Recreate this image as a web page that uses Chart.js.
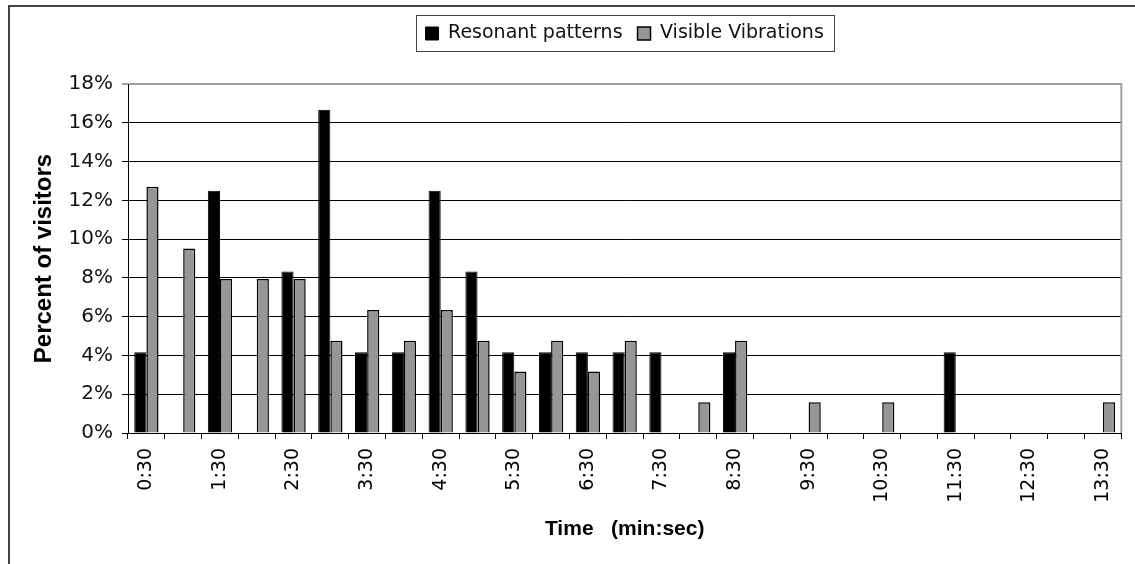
<!DOCTYPE html>
<html>
<head>
<meta charset="utf-8">
<script src="https://cdn.jsdelivr.net/npm/chart.js@4.4.0/dist/chart.umd.min.js"></script>
<style>
  html, body { margin: 0; padding: 0; background: #fff; overflow: hidden; }
  #frame { position: absolute; left: 8px; top: 5px; width: 1200px; height: 620px;
           border-left: 2px solid #444; border-top: 2px solid #444; }
  #wrap { position: absolute; left: 0; top: 0; width: 1135px; height: 564px; }
</style>
</head>
<body>
<div id="frame"></div>
<div id="wrap"><canvas id="barChart" width="1135" height="564"></canvas></div>
<script>
// time buckets, every 30 seconds
var times = ["0:30", "1:00", "1:30", "2:00", "2:30", "3:00", "3:30", "4:00", "4:30",
             "5:00", "5:30", "6:00", "6:30", "7:00", "7:30", "8:00", "8:30", "9:00",
             "9:30", "10:00", "10:30", "11:00", "11:30", "12:00", "12:30", "13:00", "13:30"];

// percent of visitors
var resonant = [4.17, 0, 12.5, 0, 8.33, 16.67, 4.17, 4.17, 12.5, 8.33, 4.17, 4.17, 4.17, 4.17,
                4.17, 0, 4.17, 0, 0, 0, 0, 0, 4.17, 0, 0, 0, 0];
var visible = [12.7, 9.52, 7.94, 7.94, 7.94, 4.76, 6.35, 4.76, 6.35, 4.76, 3.17, 4.76, 3.17, 4.76,
               0, 1.59, 4.76, 0, 1.59, 0, 1.59, 0, 0, 0, 0, 0, 1.59];

var seriesNames = ["Resonant patterns", "Visible Vibrations"];
var yTicks = [0, 2, 4, 6, 8, 10, 12, 14, 16, 18];

// push the plot down below the legend and box the legend like Excel does
var legendBox = {
    id: "legendBox",
    beforeInit: function (chart) {
        var fit = chart.legend.fit;
        chart.legend.fit = function () {
            fit.bind(chart.legend)();
            this.height += 31;
        };
    },
    afterDraw: function (chart) {
        var hb = chart.legend.legendHitBoxes;
        if (!hb || !hb.length) return;
        var c = chart.ctx;
        var last = hb[hb.length - 1];
        var x1 = hb[0].left - 10, x2 = last.left + last.width + 10;
        var y1 = hb[0].top - 9, y2 = hb[0].top + hb[0].height + 8;
        c.save();
        c.strokeStyle = "#444";
        c.lineWidth = 1;
        c.strokeRect(Math.round(x1) + 0.5, Math.round(y1) + 0.5, Math.round(x2 - x1), Math.round(y2 - y1));
        // grey right edge of the plot area
        var a = chart.chartArea;
        c.strokeStyle = "#a0a0a0";
        c.lineWidth = 2;
        c.beginPath();
        c.moveTo(a.right, a.top - 1);
        c.lineTo(a.right, a.bottom);
        c.stroke();
        c.restore();
    }
};

var ctx = document.getElementById("barChart").getContext("2d");
new Chart(ctx, {
    type: "bar",
    data: {
        labels: times,
        datasets: [{
            label: seriesNames[0],
            data: resonant,
            backgroundColor: "#000000",
            borderColor: "#000000",
            borderWidth: 1
        }, {
            label: seriesNames[1],
            data: visible,
            backgroundColor: "#969696",
            borderColor: "#000000",
            borderWidth: 1.5
        }]
    },
    options: {
        responsive: false,
        animation: false,
        devicePixelRatio: 1,
        categoryPercentage: 0.66,
        barPercentage: 1.0,
        layout: { padding: { left: 26, right: 7, top: 9, bottom: 16 } },
        plugins: {
            tooltip: { enabled: false },
            legend: {
                position: "top",
                fullSize: false,
                labels: {
                    color: "#111",
                    boxWidth: 13,
                    boxHeight: 13,
                    padding: 15,
                    font: { family: "DejaVu Sans", size: 19 }
                }
            }
        },
        scales: {
            x: {
                offset: true,
                afterFit: function (s) { s.height = 115; },
                grid: { display: true, drawOnChartArea: false, drawTicks: true, tickLength: 6, color: "#000" },
                border: { color: "#000", width: 1 },
                ticks: {
                    autoSkip: false,
                    maxRotation: 90,
                    minRotation: 90,
                    padding: 9,
                    color: "#000",
                    font: { family: "DejaVu Sans", size: 19 },
                    callback: function (v, i) { return i % 2 === 0 ? times[i] : ""; }
                },
                title: {
                    display: true,
                    text: "Time   (min:sec)",
                    color: "#000",
                    font: { family: "Liberation Sans", size: 21, weight: "bold" },
                    padding: { top: 4, bottom: 6 }
                }
            },
            y: {
                min: yTicks[0],
                max: yTicks[yTicks.length - 1],
                afterFit: function (s) { s.width = 102; },
                afterBuildTicks: function (s) { s.ticks = yTicks.map(function (v) { return { value: v }; }); },
                grid: {
                    drawTicks: true,
                    tickLength: 6,
                    color: function (c) { return c.tick && c.tick.value === 18 ? "#a0a0a0" : "#000"; },
                    lineWidth: function (c) { return c.tick && c.tick.value === 18 ? 2 : 1; }
                },
                border: { color: "#000", width: 1 },
                ticks: {
                    padding: 9,
                    color: "#111",
                    font: { family: "DejaVu Sans", size: 20 },
                    callback: function (v) { return v + "%"; }
                },
                title: {
                    display: true,
                    text: "Percent of visitors",
                    color: "#000",
                    font: { family: "Liberation Sans", size: 24, weight: "bold" },
                    padding: { top: 4, bottom: 4 }
                }
            }
        }
    },
    plugins: [legendBox]
});
</script>
</body>
</html>
